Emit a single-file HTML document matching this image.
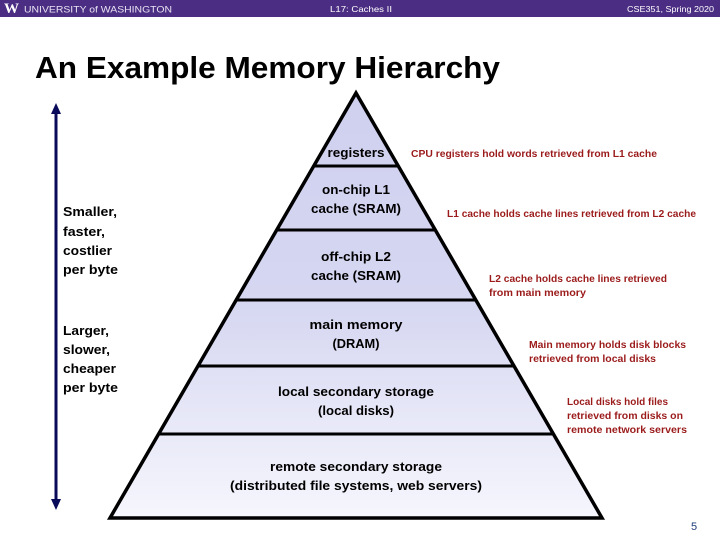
<!DOCTYPE html>
<html><head><meta charset="utf-8"><style>
html,body{margin:0;padding:0;background:#fff;width:720px;height:540px;overflow:hidden}
svg{display:block}
</style></head><body>
<svg width="720" height="540" viewBox="0 0 720 540" xmlns="http://www.w3.org/2000/svg" font-family="Liberation Sans, sans-serif">
<defs>
<linearGradient id="g" x1="0" y1="0" x2="0" y2="1">
<stop offset="0" stop-color="#cfd0ef"/><stop offset="0.5" stop-color="#d6d7f1"/><stop offset="1" stop-color="#f6f6fd"/>
</linearGradient>
</defs>
<rect x="0" y="0" width="720" height="17" fill="#4b2e83"/>
<text x="4" y="13" font-family="Liberation Serif, serif" font-weight="bold" font-size="15" fill="#fff">W</text>
<text x="24" y="12.5" font-size="9.5" fill="#e8e3f3" textLength="148" lengthAdjust="spacingAndGlyphs">UNIVERSITY of WASHINGTON</text>
<text x="330" y="12" font-size="8.5" fill="#fff" textLength="62" lengthAdjust="spacingAndGlyphs">L17: Caches II</text>
<text x="627" y="12" font-size="8.5" fill="#fff" textLength="87" lengthAdjust="spacingAndGlyphs">CSE351, Spring 2020</text>
<text x="35" y="78" font-size="31" font-weight="bold" fill="#000" textLength="465" lengthAdjust="spacingAndGlyphs">An Example Memory Hierarchy</text>

<polygon points="356,93 110,518 602,518" fill="url(#g)" stroke="#000" stroke-width="3.5" stroke-linejoin="miter"/>
<g stroke="#000" stroke-width="3">
<line x1="314" y1="166" x2="398" y2="166"/>
<line x1="277" y1="230" x2="435" y2="230"/>
<line x1="236" y1="300" x2="476" y2="300"/>
<line x1="198" y1="366" x2="514" y2="366"/>
<line x1="159" y1="434" x2="553" y2="434"/>
</g>

<g font-size="13" font-weight="bold" fill="#000" text-anchor="middle" lengthAdjust="spacingAndGlyphs">
<text x="356" y="157" textLength="57" lengthAdjust="spacingAndGlyphs">registers</text>
<text x="356" y="194" textLength="68" lengthAdjust="spacingAndGlyphs">on-chip L1</text>
<text x="356" y="213" textLength="90" lengthAdjust="spacingAndGlyphs">cache (SRAM)</text>
<text x="356" y="261" textLength="70" lengthAdjust="spacingAndGlyphs">off-chip L2</text>
<text x="356" y="280" textLength="90" lengthAdjust="spacingAndGlyphs">cache (SRAM)</text>
<text x="356" y="329" textLength="93" lengthAdjust="spacingAndGlyphs">main memory</text>
<text x="356" y="348" textLength="47" lengthAdjust="spacingAndGlyphs">(DRAM)</text>
<text x="356" y="396" textLength="156" lengthAdjust="spacingAndGlyphs">local secondary storage</text>
<text x="356" y="415" textLength="76" lengthAdjust="spacingAndGlyphs">(local disks)</text>
<text x="356" y="471" textLength="172" lengthAdjust="spacingAndGlyphs">remote secondary storage</text>
<text x="356" y="490" textLength="252" lengthAdjust="spacingAndGlyphs">(distributed file systems, web servers)</text>
</g>

<g font-size="10" font-weight="bold" fill="#9b1b1b">
<text x="411" y="157" textLength="246" lengthAdjust="spacingAndGlyphs">CPU registers hold words retrieved from L1 cache</text>
<text x="447" y="217" textLength="249" lengthAdjust="spacingAndGlyphs">L1 cache holds cache lines retrieved from L2 cache</text>
<text x="489" y="282" textLength="178" lengthAdjust="spacingAndGlyphs">L2 cache holds cache lines retrieved</text>
<text x="489" y="296" textLength="97" lengthAdjust="spacingAndGlyphs">from main memory</text>
<text x="529" y="348" textLength="157" lengthAdjust="spacingAndGlyphs">Main memory holds disk blocks</text>
<text x="529" y="362" textLength="127" lengthAdjust="spacingAndGlyphs">retrieved from local disks</text>
<text x="567" y="405" textLength="101" lengthAdjust="spacingAndGlyphs">Local disks hold files</text>
<text x="567" y="419" textLength="116" lengthAdjust="spacingAndGlyphs">retrieved from disks on</text>
<text x="567" y="433" textLength="120" lengthAdjust="spacingAndGlyphs">remote network servers</text>
</g>

<line x1="56" y1="110" x2="56" y2="502" stroke="#0a0a5a" stroke-width="3"/>
<polygon points="56,103 51,114 61,114" fill="#0a0a5a"/>
<polygon points="56,510 51,499 61,499" fill="#0a0a5a"/>
<g font-size="13" font-weight="bold" fill="#000">
<text x="63" y="216" textLength="54" lengthAdjust="spacingAndGlyphs">Smaller,</text>
<text x="63" y="236" textLength="42" lengthAdjust="spacingAndGlyphs">faster,</text>
<text x="63" y="255" textLength="49" lengthAdjust="spacingAndGlyphs">costlier</text>
<text x="63" y="274" textLength="55" lengthAdjust="spacingAndGlyphs">per byte</text>
<text x="63" y="335" textLength="46" lengthAdjust="spacingAndGlyphs">Larger,</text>
<text x="63" y="354" textLength="47" lengthAdjust="spacingAndGlyphs">slower,</text>
<text x="63" y="373" textLength="53" lengthAdjust="spacingAndGlyphs">cheaper</text>
<text x="63" y="392" textLength="55" lengthAdjust="spacingAndGlyphs">per byte</text>
</g>
<text x="691" y="530" font-size="11" fill="#1f3d7a">5</text>
</svg>
</body></html>
